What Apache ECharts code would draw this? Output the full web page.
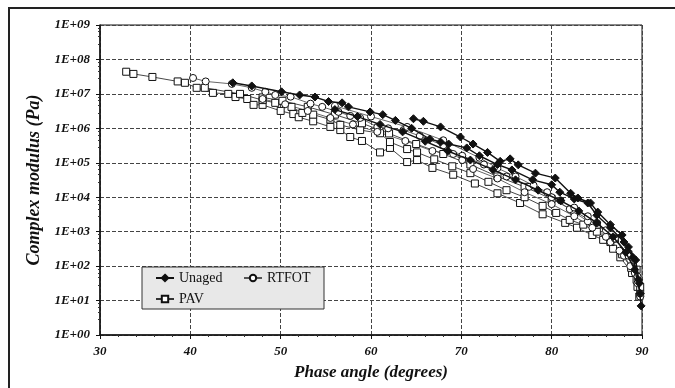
<!DOCTYPE html>
<html style="height: 100%">
<head>
	<meta charset="utf-8">
	<script type="text/javascript" src="https://cdn.jsdelivr.net/npm/echarts@6/dist/echarts.min.js"></script>
	<style>
		#container{
			width: 675px;
			height: 388px;
		}
	</style>
</head>
<body style="height: 100%; margin: 0; background: #fff">
	<div id="container"></div>
	<script type="text/javascript">
		// black space data: [phase angle (deg), complex modulus (Pa)]
		var unaged1 = [[44.7,2.1e7],[46.8,1.7e7],[50.1,1.15e7],[52.1,9.3e6],[53.8,8.1e6],[55.3,6.0e6],[56.8,5.5e6],[57.5,4.2e6],
			[59.9,3.0e6],[61.3,2.5e6],[62.7,1.7e6],[64.5,1.0e6],[66.5,4.9e5],[67.7,4.0e5],[68.6,3.5e5],[70.6,2.7e5],[72,1.6e5],
			[74,8.9e4],[75.6,6.2e4],[77.9,3.2e4],[80,2.3e4],[80.9,1.4e4],[82.5,8.9e3],[84,6.8e3],[85,3.0e3],[86.5,1.3e3],
			[88,500],[89,180],[89.6,40],[89.9,7]];
		var unaged2 = [[64.7,1.9e6],[65.8,1.6e6],[67.7,1.1e6],[69.9,5.6e5],[71.3,3.5e5],[72.9,2.0e5],[74.3,1.1e5],[75.4,1.3e5],
			[76.3,8.7e4],[78.2,5.0e4],[80.4,3.6e4],[82.1,1.3e4],[82.9,9.5e3],[84.3,6.8e3],[85.1,3.7e3],[86.5,1.6e3],[87.8,800],
			[88.5,360],[89.3,150],[89.7,32]];
		var unaged3 = [[56,3.5e6],[58.5,2.2e6],[61,1.3e6],[63.5,7.9e5],[66,4.2e5],[68.5,2.2e5],[71,1.2e5],[73.5,6.3e4],[76,3.2e4],
			[78.5,1.6e4],[81,7.9e3],[83,4.0e3],[85,1.8e3],[86.8,710],[88.2,250],[89.2,79],[89.8,16]];

		var rtfot1 = [[40.3,2.9e7],[41.7,2.3e7],[44.6,1.95e7],[46.8,1.5e7],[48.3,1.15e7],[49.4,9.3e6],[51.1,8.3e6],[53.3,5.2e6],
			[54.6,4.2e6],[56.4,3.0e6],[57.7,2.3e6],[58.8,2.0e6],[60.7,1.1e6],[61.9,1.0e6],[63.6,8.9e5],[65.4,6.0e5],[68,3.2e5],
			[70.1,1.6e5],[72.5,8.9e4],[75,4.0e4],[77.5,2.0e4],[80,1.0e4],[82,4.5e3],[84,2.0e3],[86,710],[87.5,280],[88.7,100],
			[89.5,32],[89.8,13]];
		var rtfot2 = [[48,7.1e6],[50.5,5.0e6],[53,3.2e6],[55.5,2.0e6],[58,1.3e6],[60.7,7.9e5],[63.8,4.3e5],[66.8,2.2e5],[69.1,1.8e5],
			[70.1,1.2e5],[71.3,6.6e4],[74,3.5e4],[77,1.4e4],[80,6.3e3],[82.5,2.8e3],[84.5,1.3e3],[86.5,500],[88,200],[89.2,63],[89.8,16]];
		var rtfot3 = [[56,4.5e6],[60,2.2e6],[64,1.1e6],[68,4.5e5],[72,1.4e5],[74,7.0e4],[76,4.0e4],[78,2.2e4],[79.5,1.4e4],[81,8.0e3],
			[82.5,5.0e3],[84,2.8e3],[85,1.8e3],[86,1.1e3],[87,630],[88.5,200],[89.5,50]];

		var pav1 = [[32.9,4.4e7],[33.7,3.8e7],[35.8,3.1e7],[38.6,2.3e7],[39.4,2.1e7],[40.7,1.5e7],[42.5,1.07e7],[44.2,1.0e7],
			[45,8.1e6],[46.3,7.1e6],[47,4.8e6],[48,4.8e6],[50,3.2e6],[51.4,2.6e6],[52,2.1e6],[53.6,1.6e6],[55.5,1.1e6],[56.6,8.9e5],
			[57.7,5.6e5],[59,4.3e5],[61,2.0e5],[62.1,2.7e5],[64,1.05e5],[65.1,1.2e5],[66.8,7.1e4],[69.1,4.5e4],[71.5,2.5e4],
			[74,1.3e4],[76.5,6.8e3],[79,3.2e3],[81.5,1.8e3],[82.8,1.3e3],[84.5,800],[85.7,580],[86.8,320],[87.6,180],[88.9,63],
			[89.5,25],[89.7,13]];
		var pav2 = [[41.6,1.5e7],[45.5,1.0e7],[48,6.6e6],[49.4,5.5e6],[51.2,4.2e6],[52.4,2.8e6],[53.6,2.5e6],[55.5,1.8e6],[56.6,1.26e6],
			[58.8,8.9e5],[61,7.2e5],[62.1,4.0e5],[64,2.5e5],[65.1,2.0e5],[67,1.26e5],[69,7.9e4],[71,5.0e4],[73,2.8e4],[75,1.6e4],
			[77,1.0e4],[79,5.6e3],[80.5,3.5e3],[82,2.2e3],[83.5,1.6e3],[85,1.0e3],[86.5,500],[87.8,220],[88.8,89],[89.4,40],[89.8,16]];
		var pav3 = [[48,7.9e6],[50.2,6.3e6],[53,4.2e6],[56,2.5e6],[59,1.4e6],[62,7.1e5],[65,3.5e5],[68,1.8e5],[71,8.9e4],[74,4.0e4],
			[77,2.0e4],[80,8.9e3],[82.5,4.0e3],[85,1.6e3],[87,630],[88.5,220],[89.4,79],[89.8,25]];

		var names = ['Unaged', 'RTFOT', 'PAV'];
		var xTicks = [30, 40, 50, 60, 70, 80, 90];

		var serif = 'Liberation Serif';
		var styles = {
			Unaged: {symbol: 'diamond', size: 8, fill: '#111', line: {color: '#111', width: 1.4}},
			RTFOT: {symbol: 'circle', size: 7, fill: '#fff', line: {color: '#555', width: 0.9}},
			PAV: {symbol: 'rect', size: 7, fill: '#fff', line: {color: '#333', width: 0.9}}
		};

		function curve(name, data) {
			var s = styles[name];
			return {
				type: 'line',
				name: name,
				data: data,
				symbol: s.symbol,
				symbolSize: s.size,
				showAllSymbol: true,
				lineStyle: s.line,
				itemStyle: {color: s.fill, borderColor: '#111', borderWidth: 1},
				emphasis: {disabled: true},
				z: name == 'Unaged' ? 4 : 3
			};
		}

		var myChart = echarts.init(document.getElementById('container'));
		myChart.setOption({
			animation: false,
			backgroundColor: '#fff',
			graphic: [{
				type: 'rect',
				shape: {x: 9, y: 8, width: 720, height: 420},
				style: {fill: 'none', stroke: '#222', lineWidth: 2},
				silent: true
			}],
			grid: {left: 100, right: 33, top: 25, bottom: 53, show: true, borderColor: '#111', borderWidth: 1},
			legend: {
				data: names,
				left: 142,
				top: 267,
				width: 175,
				padding: [4, 0, 3, 13],
				itemGap: 7,
				itemWidth: 18,
				itemHeight: 8,
				backgroundColor: '#e8e8e8',
				borderColor: '#333',
				borderWidth: 1,
				borderRadius: 0,
				textStyle: {fontFamily: serif, fontSize: 14, color: '#111', width: 57, lineHeight: 14}
			},
			xAxis: {
				type: 'value',
				min: xTicks[0],
				max: xTicks[xTicks.length - 1],
				interval: 10,
				name: 'Phase angle (degrees)',
				nameLocation: 'middle',
				nameGap: 29,
				nameTextStyle: {fontFamily: serif, fontStyle: 'italic', fontWeight: 'bold', fontSize: 17, color: '#111'},
				axisLine: {lineStyle: {color: '#111', width: 1.5}},
				axisTick: {length: 4, lineStyle: {color: '#111'}},
				minorTick: {show: true, splitNumber: 5, length: 2, lineStyle: {color: '#333'}},
				axisLabel: {fontFamily: serif, fontStyle: 'italic', fontWeight: 'bold', fontSize: 13, color: '#111', margin: 10},
				splitLine: {show: true, lineStyle: {color: '#444', width: 1, type: [4, 2]}}
			},
			yAxis: {
				type: 'log',
				logBase: 10,
				min: 1,
				max: 1e9,
				splitNumber: 9,
				name: 'Complex modulus (Pa)',
				nameLocation: 'middle',
				nameGap: 53,
				nameTextStyle: {fontFamily: serif, fontStyle: 'italic', fontWeight: 'bold', fontSize: 18, color: '#111'},
				axisLine: {show: true, lineStyle: {color: '#111', width: 1.5}},
				axisTick: {show: true, length: 4, lineStyle: {color: '#111'}},
				minorTick: {show: true, splitNumber: 5, length: 2, lineStyle: {color: '#333'}},
				axisLabel: {
					fontFamily: serif, fontStyle: 'italic', fontWeight: 'bold', fontSize: 13, color: '#111', margin: 10,
					formatter: function (v) {
						var e = Math.round(Math.log10(v));
						return '1E+' + (e < 10 ? '0' : '') + e;
					}
				},
				splitLine: {show: true, lineStyle: {color: '#444', width: 1, type: [4, 2]}}
			},
			series: [
				curve('PAV', pav1), curve('PAV', pav2), curve('PAV', pav3),
				curve('RTFOT', rtfot1), curve('RTFOT', rtfot2), curve('RTFOT', rtfot3),
				curve('Unaged', unaged1), curve('Unaged', unaged2), curve('Unaged', unaged3)
			]
		});
	</script>
</body>
</html>
